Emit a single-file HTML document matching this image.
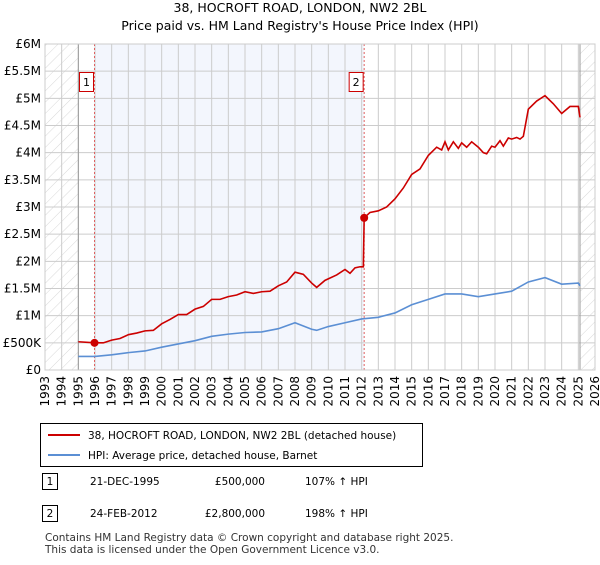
<!DOCTYPE html>
<html><head><meta charset="utf-8"><style>
body{margin:0;background:#fff;font-family:"Liberation Sans","DejaVu Sans",sans-serif;}
svg text{font-family:"DejaVu Sans","Liberation Sans",sans-serif;}
</style></head><body>
<svg id="c" width="600" height="560" xmlns="http://www.w3.org/2000/svg">
<defs><pattern id="h" width="8" height="8" patternUnits="userSpaceOnUse" patternTransform="rotate(45)"><line x1="0" y1="0" x2="0" y2="8" stroke="#d8d8d8" stroke-width="1"/></pattern></defs>
<text x="300" y="12" text-anchor="middle" font-size="12.5">38, HOCROFT ROAD, LONDON, NW2 2BL</text>
<text x="300" y="30" text-anchor="middle" font-size="12.5">Price paid vs. HM Land Registry's House Price Index (HPI)</text>
<g id="plot"></g>
<g>
<rect x="40.5" y="423.5" width="382" height="43" fill="#fff" stroke="#000"/>
<line x1="48" y1="435" x2="80" y2="435" stroke="#cc0000" stroke-width="2"/>
<text x="88" y="439" font-size="10.5">38, HOCROFT ROAD, LONDON, NW2 2BL (detached house)</text>
<line x1="48" y1="455" x2="80" y2="455" stroke="#5b8fd4" stroke-width="2"/>
<text x="88" y="459" font-size="10.5">HPI: Average price, detached house, Barnet</text>
</g>
<g font-size="10.5">
<rect x="42.5" y="473.5" width="15" height="16" fill="#fff" stroke="#000"/><text x="50" y="485" text-anchor="middle">1</text>
<text x="90" y="485">21-DEC-1995</text><text x="265" y="485" text-anchor="end">£500,000</text><text x="305" y="485">107% ↑ HPI</text>
<rect x="42.5" y="505.5" width="15" height="16" fill="#fff" stroke="#000"/><text x="50" y="517" text-anchor="middle">2</text>
<text x="90" y="517">24-FEB-2012</text><text x="265" y="517" text-anchor="end">£2,800,000</text><text x="305" y="517">198% ↑ HPI</text>
</g>
<text x="45" y="541" font-size="10.5" fill="#333">Contains HM Land Registry data © Crown copyright and database right 2025.</text>
<text x="45" y="553" font-size="10.5" fill="#333">This data is licensed under the Open Government Licence v3.0.</text>
</svg>
<script>
const yTicks=[0,0.5,1,1.5,2,2.5,3,3.5,4,4.5,5,5.5,6];
const yLabels=["£0","£500K","£1M","£1.5M","£2M","£2.5M","£3M","£3.5M","£4M","£4.5M","£5M","£5.5M","£6M"];
const years=[1993,1994,1995,1996,1997,1998,1999,2000,2001,2002,2003,2004,2005,2006,2007,2008,2009,2010,2011,2012,2013,2014,2015,2016,2017,2018,2019,2020,2021,2022,2023,2024,2025,2026];
const redX=[1995.0,1995.97,1996.5,1997,1997.5,1998,1998.5,1999,1999.5,2000,2000.5,2001,2001.5,2002,2002.5,2003,2003.5,2004,2004.5,2005,2005.5,2006,2006.5,2007,2007.5,2008,2008.5,2009,2009.3,2009.8,2010.5,2011,2011.3,2011.6,2011.9,2012.1,2012.15,2012.5,2013,2013.5,2014,2014.5,2015,2015.5,2016,2016.5,2016.8,2017,2017.2,2017.5,2017.8,2018,2018.3,2018.6,2019,2019.3,2019.5,2019.8,2020,2020.3,2020.5,2020.8,2021,2021.3,2021.5,2021.7,2022,2022.5,2023,2023.5,2024,2024.5,2025,2025.1];
const redY=[0.52,0.5,0.5,0.55,0.58,0.65,0.68,0.72,0.73,0.85,0.93,1.02,1.02,1.12,1.17,1.3,1.3,1.35,1.38,1.44,1.41,1.44,1.45,1.55,1.62,1.8,1.76,1.6,1.52,1.65,1.75,1.85,1.78,1.88,1.9,1.9,2.8,2.9,2.93,3.0,3.15,3.35,3.6,3.7,3.95,4.1,4.05,4.2,4.05,4.2,4.08,4.18,4.1,4.2,4.1,4.0,3.98,4.12,4.1,4.22,4.12,4.27,4.25,4.28,4.25,4.3,4.8,4.95,5.05,4.9,4.72,4.85,4.85,4.65];
const blueX=[1995,1996,1997,1998,1999,2000,2001,2002,2003,2004,2005,2006,2007,2008,2009,2009.3,2010,2011,2012,2013,2014,2015,2016,2017,2018,2019,2020,2021,2022,2023,2024,2025,2025.1];
const blueY=[0.25,0.25,0.28,0.32,0.35,0.42,0.48,0.54,0.62,0.66,0.69,0.7,0.76,0.87,0.75,0.73,0.8,0.87,0.94,0.97,1.05,1.2,1.3,1.4,1.4,1.35,1.4,1.45,1.62,1.7,1.58,1.6,1.55];
const saleX=[1995.97,2012.15];
const saleY=[0.5,2.8];
const saleLabels=["1","2"];
const X0=45,X1=595,Y0=370,Y1=44;
const xs=v=>X0+(v-1993)/(2026-1993)*(X1-X0);
const ys=v=>Y0-v/6*(Y0-Y1);
const NS="http://www.w3.org/2000/svg";
const g=document.getElementById('plot');
function mk(t,a){const e=document.createElementNS(NS,t);for(const k in a)e.setAttribute(k,a[k]);g.appendChild(e);return e;}
let r;
r=mk('rect',{x:X0,y:Y1,width:xs(1995)-X0,height:Y0-Y1,fill:'url(#h)'});


r=mk('rect',{x:xs(2025.1),y:Y1,width:X1-xs(2025.1),height:Y0-Y1,fill:'url(#h)'});


r=mk('rect',{x:xs(saleX[0]),y:Y1,width:xs(saleX[1])-xs(saleX[0]),height:Y0-Y1,fill:'#f3f6fd'});


yTicks.forEach((t,i)=>{
 const l=mk('line',{x1:X0,x2:X1,y1:ys(t),y2:ys(t),stroke:'#ccc'});
 
 
 const tx=mk('text',{x:X0-4,y:ys(t)+4,'text-anchor':'end','font-size':'12'});
 tx.textContent=yLabels[i];
 
 
});
years.forEach(y=>{
 const l=mk('line',{x1:xs(y),x2:xs(y),y1:Y1,y2:Y0,stroke:'#ccc'});
 
 
 const tx=mk('text',{x:0,y:0,'font-size':'12','text-anchor':'end',transform:`translate(${xs(y)+4},${Y0+6}) rotate(-90)`});
 tx.textContent=y;
 
 
});
[1995,2025.1].forEach(v=>{const l=mk('line',{x1:xs(v),x2:xs(v),y1:Y1,y2:Y0,stroke:'#999'});
 
 });
saleX.forEach((v,i)=>{
 const l=mk('line',{x1:xs(v),x2:xs(v),y1:Y1,y2:Y0,stroke:'#e06060','stroke-dasharray':'2,2'});
 
 
 const b=mk('rect',{x:xs(v)-15,y:72.5,width:14,height:19,fill:'#fff',stroke:'#cc0000'});
 
 
 const t=mk('text',{x:xs(v)-8,y:86,'text-anchor':'middle','font-size':'11'});
 t.textContent=saleLabels[i];
 
 
});
let pb=mk('polyline',{points:blueX.map((x,i)=>xs(x)+','+ys(blueY[i])).join(' '),fill:'none',stroke:'#5b8fd4','stroke-width':'1.6'});


let pr=mk('polyline',{points:redX.map((x,i)=>xs(x)+','+ys(redY[i])).join(' '),fill:'none',stroke:'#cc0000','stroke-width':'1.6'});


saleX.forEach((v,i)=>{const c=mk('circle',{cx:xs(v),cy:ys(saleY[i]),r:4,fill:'#cc0000'});
 
 });
const fr=mk('rect',{x:X0,y:Y1,width:X1-X0,height:Y0-Y1,fill:'none',stroke:'#ccc'});


</script>
</body></html>
